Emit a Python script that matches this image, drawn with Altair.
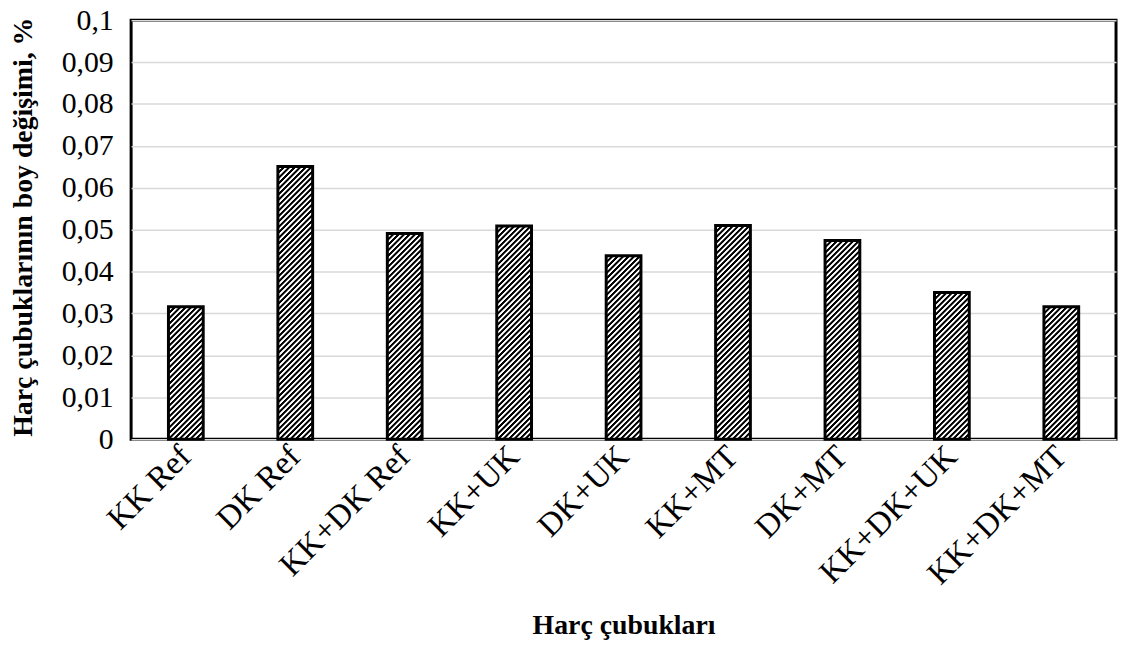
import math
import altair as alt
import pandas as pd

categories = ["KK Ref", "DK Ref", "KK+DK Ref", "KK+UK", "DK+UK",
              "KK+MT", "DK+MT", "KK+DK+UK", "KK+DK+MT"]
values = [0.0316, 0.0651, 0.0491, 0.0509, 0.0438, 0.0510, 0.0474, 0.0350, 0.0316]
y_ticks = [0, 0.01, 0.02, 0.03, 0.04, 0.05, 0.06, 0.07, 0.08, 0.09, 0.1]

y_title = "Harç çubuklarının boy değişimi, %"
x_title = "Harç çubukları"

FONT = "Liberation Serif"
W, H = 992, 422
BAR = 35
PERIOD = 5.5
YMAX = 0.1

df = pd.DataFrame({"cat": categories, "value": values})


def hatch(value):
    """Diagonal black/white hatch as a soft-edged linear gradient."""
    h = value / YMAX * H
    w = BAR
    n = int(math.ceil((w + h) / PERIOD))
    L = n * PERIOD
    k = L / (w * w + h * h)
    stops = []
    for i in range(n):
        def off(f):
            return round((i + f) / n, 6)
        stops += [
            alt.GradientStop(color="black", offset=off(0.05)),
            alt.GradientStop(color="black", offset=off(0.42)),
            alt.GradientStop(color="white", offset=off(0.58)),
            alt.GradientStop(color="white", offset=off(0.90)),
        ]
    return alt.LinearGradient(gradient="linear", stops=stops,
                              x1=0, y1=0, x2=round(k * w, 6), y2=round(k * h, 6))


x_enc = alt.X(
    "cat:N",
    sort=categories,
    scale=alt.Scale(domain=categories, paddingInner=0, paddingOuter=0),
    axis=alt.Axis(
        title=x_title,
        labelAngle=315,
        labelAlign="right",
        labelBaseline="middle",
        labelPadding=12,
        labelFontSize=33,
        labelOverlap=False,
        labelLimit=400,
        ticks=False,
        domain=False,
        titleX=W / 2,
        titleY=196,
        titleAlign="center",
        titleBaseline="alphabetic",
    ),
)

y_enc = alt.Y(
    "value:Q",
    scale=alt.Scale(domain=[0, YMAX], nice=False),
    axis=alt.Axis(
        title=y_title,
        values=y_ticks,
        labelExpr="replace(format(datum.value, '.2~f'), '.', ',')",
        labelFontSize=30,
        ticks=False,
        domain=False,
        labelPadding=18,
        gridColor="#d9d9d9",
        gridWidth=1.5,
        titleX=-108,
        titleY=H / 2 - 3,
        titleAngle=270,
        titleAlign="center",
        titleBaseline="middle",
    ),
)

base = alt.Chart(df)
layers = []
for cat, val in zip(categories, values):
    layers.append(
        base.transform_filter(alt.datum.cat == cat)
        .mark_bar(size=BAR, fill=hatch(val), stroke="black", strokeWidth=3)
        .encode(x=x_enc, y=y_enc)
    )

chart = (
    alt.layer(*layers)
    .properties(
        width=W,
        height=H,
        autosize=alt.AutoSizeParams(type="none"),
        padding={"left": 124, "top": 10, "right": 3, "bottom": 205},
        background="white",
    )
    .configure_view(stroke="black", strokeWidth=3)
    .configure_axis(
        labelFont=FONT,
        labelColor="black",
        titleFont=FONT,
        titleFontSize=28,
        titleFontWeight="bold",
        titleColor="black",
    )
    .configure_axisX(grid=False)
)

chart.save("out.html", embed_options={"renderer": "svg", "actions": False})
